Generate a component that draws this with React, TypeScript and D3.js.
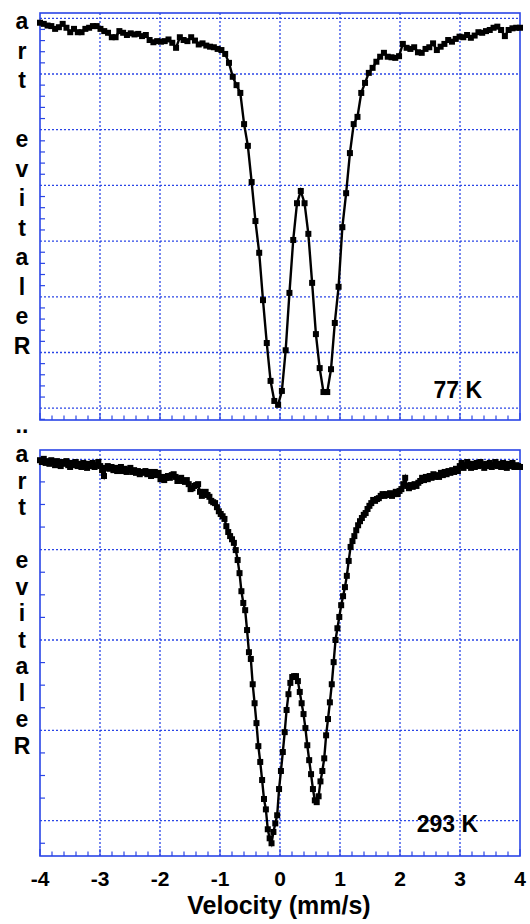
import React, { useEffect, useRef } from "react";
import * as d3 from "d3";

// velocity range of the drive (mm/s), channels evenly spread over it
const vMin = -4;
const vMax = 4;
const xTicks = [-4, -3, -2, -1, 0, 1, 2, 3, 4];

// relative transmission (%), 77 K spectrum
const trans77 = [
  99.92, 99.9, 99.87, 99.86, 99.81, 99.84, 99.9, 99.83, 99.75, 99.81, 99.75, 99.75, 99.81, 99.83, 99.86, 99.86,
  99.81, 99.77, 99.74, 99.66, 99.66, 99.77, 99.74, 99.7, 99.73, 99.71, 99.72, 99.68, 99.7, 99.61, 99.57, 99.59,
  99.58, 99.59, 99.62, 99.56, 99.47, 99.66, 99.61, 99.59, 99.66, 99.6, 99.53, 99.55, 99.51, 99.49, 99.48, 99.45,
  99.43, 99.36, 99.2, 98.95, 98.8, 98.66, 98.1, 97.71, 97.06, 96.36, 95.79, 94.94, 94.17, 93.49, 93.13, 93.06,
  93.31, 94.04, 95.07, 96.02, 96.68, 96.9, 96.68, 96.13, 95.25, 94.33, 93.72, 93.29, 93.29, 93.7, 94.53, 95.18,
  96.25, 96.86, 97.58, 98.1, 98.23, 98.66, 98.84, 99.02, 99.11, 99.22, 99.31, 99.38, 99.31, 99.3, 99.29, 99.32,
  99.54, 99.47, 99.45, 99.48, 99.39, 99.38, 99.45, 99.48, 99.55, 99.43, 99.49, 99.54, 99.61, 99.58, 99.63, 99.67,
  99.66, 99.7, 99.65, 99.69, 99.75, 99.74, 99.77, 99.79, 99.83, 99.85, 99.79, 99.68, 99.79, 99.82, 99.83, 99.83,
];

// relative transmission (%), 293 K spectrum
const trans293 = [
  99.98, 99.94, 100.01, 99.92, 99.96, 99.9, 99.98, 99.94, 99.87, 99.96, 99.92, 99.85, 99.94, 99.9, 99.96, 99.87,
  99.83, 99.92, 99.87, 99.94, 99.85, 99.9, 99.83, 99.92, 99.85, 99.81, 99.9, 99.85, 99.92, 99.83, 99.87, 99.94,
  99.85, 99.76, 99.63, 99.81, 99.85, 99.79, 99.83, 99.76, 99.81, 99.74, 99.79, 99.83, 99.74, 99.79, 99.72, 99.76,
  99.81, 99.72, 99.76, 99.7, 99.74, 99.67, 99.72, 99.7, 99.74, 99.67, 99.72, 99.63, 99.67, 99.72, 99.65, 99.7,
  99.56, 99.61, 99.54, 99.59, 99.63, 99.59, 99.65, 99.67, 99.61, 99.52, 99.56, 99.59, 99.52, 99.5, 99.54, 99.45,
  99.34, 99.36, 99.41, 99.43, 99.45, 99.28, 99.19, 99.23, 99.28, 99.21, 99.17, 99.08, 99.05, 99.03, 98.94, 98.85,
  98.79, 98.74, 98.68, 98.52, 98.39, 98.3, 98.23, 98.15, 97.99, 97.77, 97.48, 97.08, 96.82, 96.66, 96.22, 95.73,
  95.58, 95.02, 94.6, 94.16, 93.65, 93.3, 92.9, 92.48, 92.25, 91.81, 91.61, 91.5, 91.75, 91.94, 92.12, 92.7,
  93.1, 93.52, 93.96, 94.45, 94.8, 95.05, 95.18, 95.2, 95.2, 95.09, 94.85, 94.6, 94.36, 94.05, 93.67, 93.34,
  93.03, 92.7, 92.45, 92.41, 92.54, 92.87, 93.1, 93.38, 93.89, 94.25, 94.62, 95.02, 95.51, 96.0, 96.26, 96.51,
  96.77, 96.97, 97.17, 97.42, 97.75, 98.06, 98.19, 98.3, 98.43, 98.54, 98.63, 98.7, 98.77, 98.81, 98.9, 98.97,
  99.03, 99.1, 99.08, 99.12, 99.14, 99.19, 99.23, 99.19, 99.23, 99.21, 99.25, 99.19, 99.23, 99.28, 99.23, 99.3,
  99.34, 99.45, 99.59, 99.41, 99.36, 99.43, 99.39, 99.45, 99.41, 99.48, 99.52, 99.59, 99.54, 99.61, 99.56, 99.63,
  99.59, 99.67, 99.61, 99.65, 99.61, 99.7, 99.65, 99.72, 99.67, 99.74, 99.7, 99.76, 99.72, 99.79, 99.74, 99.85,
  99.92, 99.81, 99.87, 99.94, 99.85, 99.81, 99.9, 99.83, 99.92, 99.85, 99.94, 99.87, 99.81, 99.9, 99.85, 99.92,
  99.83, 99.87, 99.94, 99.85, 99.9, 99.83, 99.92, 99.87, 99.81, 99.9, 99.85, 99.92, 99.83, 99.87, 99.85, 99.83,
];

const yGrid77 = [93, 94, 95, 96, 97, 98, 99, 100];
const yGrid293 = [92, 94, 96, 98, 100];
const tempLabels = ["77 K", "293 K"];
const yTitle = "Relative tra";

const blue = "#2a45e6";
const font = "'Liberation Sans', Arial, sans-serif";

export default function App() {
  const ref = useRef<SVGSVGElement>(null);

  useEffect(() => {
    const svg = d3.select(ref.current);
    svg.selectAll("*").remove();

    const left = 40;
    const right = 520;
    const x = d3.scaleLinear().domain([vMin, vMax]).range([left, right]);

    const panels = [
      {
        data: trans77, top: 13, bottom: 420, domain: [92.788, 100.095], grid: yGrid77, minor: 0.2,
        label: tempLabels[0], labelX: 482, labelY: 398, chars0: 29, charStep: 29.5,
      },
      {
        data: trans293, top: 450, bottom: 856, domain: [91.218, 100.206], grid: yGrid293, minor: 0.5,
        label: tempLabels[1], labelX: 478, labelY: 832, chars0: 462, charStep: 26.5,
      },
    ];

    panels.forEach((p) => {
      const y = d3.scaleLinear().domain(p.domain).range([p.bottom, p.top]);
      const g = svg.append("g");
      const vel = d3.range(p.data.length).map((i) => vMin + (i * (vMax - vMin)) / (p.data.length - 1));

      // dotted grid
      g.selectAll(".vg")
        .data(xTicks.slice(1, -1))
        .enter()
        .append("line")
        .attr("x1", (d) => x(d)).attr("x2", (d) => x(d))
        .attr("y1", p.top).attr("y2", p.bottom)
        .attr("stroke", blue).attr("stroke-width", 1.3).attr("stroke-dasharray", "2,2");
      g.selectAll(".hg")
        .data(p.grid)
        .enter()
        .append("line")
        .attr("x1", left).attr("x2", right)
        .attr("y1", (d) => y(d)).attr("y2", (d) => y(d))
        .attr("stroke", blue).attr("stroke-width", 1.3).attr("stroke-dasharray", "2,2");

      // minor ticks on the left
      const yMinor = d3.range(p.grid[0], p.grid[p.grid.length - 1], p.minor)
        .concat(d3.range(p.grid[0] - p.minor, p.domain[0], -p.minor))
        .filter((d) => !p.grid.some((gv) => Math.abs(gv - d) < 1e-6));
      g.selectAll(".ym")
        .data(yMinor)
        .enter()
        .append("line")
        .attr("x1", left).attr("x2", left + 5)
        .attr("y1", (d) => y(d)).attr("y2", (d) => y(d))
        .attr("stroke", blue).attr("stroke-width", 1.2);

      // ticks along the bottom
      const xMinor = d3.range(vMin, vMax + 0.001, 0.2);
      g.selectAll(".xm")
        .data(xMinor)
        .enter()
        .append("line")
        .attr("x1", (d) => x(d)).attr("x2", (d) => x(d))
        .attr("y1", p.bottom)
        .attr("y2", (d) => p.bottom - (Math.abs(d - Math.round(d)) < 1e-6 ? 7 : 4.5))
        .attr("stroke", blue).attr("stroke-width", 1.2);

      // frame
      g.append("rect")
        .attr("x", left).attr("y", p.top)
        .attr("width", right - left).attr("height", p.bottom - p.top)
        .attr("fill", "none").attr("stroke", blue).attr("stroke-width", 1.6);

      // spectrum
      const line = d3.line<number>().x((_, i) => x(vel[i])).y((d) => y(d));
      g.append("path")
        .datum(p.data)
        .attr("d", line)
        .attr("fill", "none").attr("stroke", "#000").attr("stroke-width", 2.4);
      g.selectAll(".pt")
        .data(p.data)
        .enter()
        .append("rect")
        .attr("x", (_, i) => x(vel[i]) - 3)
        .attr("y", (d) => y(d) - 3)
        .attr("width", 6).attr("height", 6)
        .attr("fill", "#000");

      // temperature
      g.append("text")
        .attr("x", p.labelX).attr("y", p.labelY)
        .attr("text-anchor", "end")
        .attr("font-family", font).attr("font-weight", "bold").attr("font-size", 23)
        .text(p.label);

      // stacked y title
      const chars = yTitle.split("").reverse();
      g.selectAll(".yc")
        .data(chars)
        .enter()
        .append("text")
        .attr("x", 22)
        .attr("y", (_, i) => p.chars0 + i * p.charStep)
        .attr("text-anchor", "middle")
        .attr("font-family", font).attr("font-weight", "bold").attr("font-size", 23)
        .text((d) => d);
    });

    svg.append("text")
      .attr("x", 22).attr("y", 433)
      .attr("text-anchor", "middle")
      .attr("font-family", font).attr("font-weight", "bold").attr("font-size", 23)
      .text("..");

    // x tick labels
    svg.selectAll(".xl")
      .data(xTicks)
      .enter()
      .append("text")
      .attr("x", (d) => x(d))
      .attr("y", 886)
      .attr("text-anchor", "middle")
      .attr("font-family", font).attr("font-weight", "bold").attr("font-size", 21)
      .text((d) => String(d));

    svg.append("text")
      .attr("x", 279).attr("y", 914)
      .attr("text-anchor", "middle")
      .attr("font-family", font).attr("font-weight", "bold").attr("font-size", 25)
      .text("Velocity (mm/s)");
  }, []);

  return (
    <div style={{ position: "absolute", left: 0, top: 0 }}>
      <svg ref={ref} width={530} height={924} style={{ display: "block", background: "#fff" }} />
    </div>
  );
}
